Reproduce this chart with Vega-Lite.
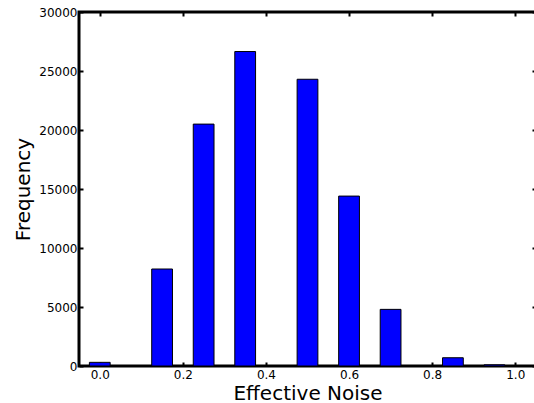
{
  "$schema": "https://vega.github.io/schema/vega-lite/v6.json",
  "autosize": {"type": "none"},
  "padding": {"left": 79, "top": 12, "right": 0, "bottom": 37},
  "width": 457,
  "height": 354,
  "config": {
    "view": {"stroke": "black", "strokeWidth": 3},
    "font": "DejaVu Sans",
    "axis": {
      "domain": false,
      "grid": false,
      "labelFont": "DejaVu Sans",
      "labelFontSize": 12,
      "labelColor": "black",
      "titleFont": "DejaVu Sans",
      "titleFontWeight": "normal",
      "titleColor": "black",
      "titleFontSize": 20,
      "tickColor": "black",
      "tickWidth": 2,
      "tickSize": -4
    }
  },
  "data": {
    "values": [
      {"start": -0.025, "end": 0.025, "count": 310},
      {"start": 0.125, "end": 0.175, "count": 8220},
      {"start": 0.225, "end": 0.275, "count": 20500},
      {"start": 0.325, "end": 0.375, "count": 26650},
      {"start": 0.475, "end": 0.525, "count": 24300},
      {"start": 0.575, "end": 0.625, "count": 14400},
      {"start": 0.675, "end": 0.725, "count": 4800},
      {"start": 0.825, "end": 0.875, "count": 700},
      {"start": 0.925, "end": 0.975, "count": 100}
    ]
  },
  "layer": [
    {
      "mark": {"type": "bar", "color": "#0000ff", "stroke": "black", "strokeWidth": 1},
      "encoding": {
        "x": {
          "field": "start", "type": "quantitative",
          "scale": {"domain": [-0.05, 1.05], "nice": false, "zero": false},
          "axis": {"orient": "bottom", "values": [0, 0.2, 0.4, 0.6, 0.8, 1.0], "format": ".1f", "title": "Effective Noise", "labelPadding": 7, "titlePadding": 3}
        },
        "x2": {"field": "end"},
        "y": {
          "field": "count", "type": "quantitative",
          "scale": {"domain": [0, 30000], "nice": false},
          "axis": {"orient": "left", "values": [0, 5000, 10000, 15000, 20000, 25000, 30000], "format": "d", "title": "Frequency", "labelPadding": 6, "titlePadding": 5}
        },
        "y2": {"datum": 0}
      }
    },
    {
      "mark": {"type": "bar", "opacity": 0},
      "encoding": {
        "x": {
          "field": "start", "type": "quantitative",
          "axis": {"orient": "top", "values": [0, 0.2, 0.4, 0.6, 0.8, 1.0], "labels": false, "title": null}
        },
        "x2": {"field": "end"},
        "y": {
          "field": "count", "type": "quantitative",
          "axis": {"orient": "right", "values": [0, 5000, 10000, 15000, 20000, 25000, 30000], "labels": false, "title": null}
        },
        "y2": {"datum": 0}
      }
    }
  ],
  "resolve": {"axis": {"x": "independent", "y": "independent"}}
}
